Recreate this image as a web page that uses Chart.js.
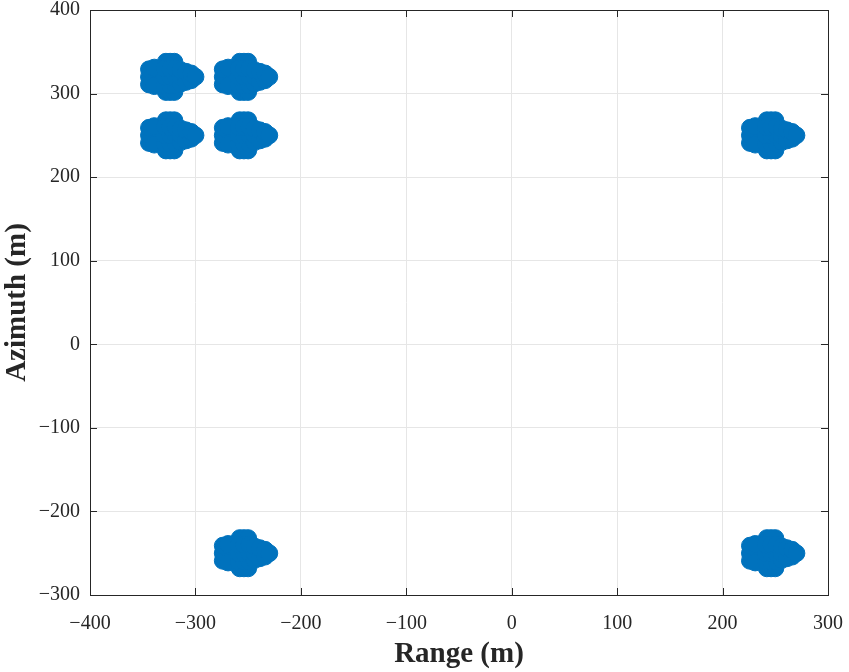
<!DOCTYPE html>
<html>
<head>
<meta charset="utf-8">
<script src="https://cdn.jsdelivr.net/npm/chart.js@4.4.0/dist/chart.umd.min.js"></script>
<style>
  html, body { margin: 0; padding: 0; background: #fff; }
  #wrap { width: 849px; height: 672px; }
</style>
</head>
<body>
<div id="wrap"><canvas id="sarChart"></canvas></div>
<script>
// target centres (m)
const rangeCenters   = [-324, -254, -324, -254, 246, -254, 246];
const azimuthCenters = [ 320,  320,  250,  250, 250, -250, -250];

// airplane outline as point offsets from the wing centre (m)
const shapeDx = [-20, -20, -20, -15, -15,
                 -4, 0, 4, -4, 0, 4,
                 -5, 0, 5, -5, 0, 5, -5, 0, 5,
                 10, 10, 10, 15, 15, 20, 20, 24];
const shapeDy = [-9, 0, 9, -11, 11,
                 -18, -18, -18, 18, 18, 18,
                 -10, -10, -10, 0, 0, 0, 10, 10, 10,
                 -8, 0, 8, -6, 6, -4, 4, 0];

const xTicks = [-400, -300, -200, -100, 0, 100, 200, 300];
const yTicks = [-300, -200, -100, 0, 100, 200, 300, 400];

const points = [];
rangeCenters.forEach((cx, i) => {
    shapeDx.forEach((dx, j) => {
        points.push({ x: cx + dx, y: azimuthCenters[i] + shapeDy[j] });
    });
});

// MATLAB-style box with inward ticks
const boxPlugin = {
    id: 'boxPlugin',
    afterDraw(chart) {
        const { ctx, chartArea: a, scales } = chart;
        ctx.save();
        ctx.strokeStyle = '#262626';
        ctx.lineWidth = 1;
        ctx.beginPath();
        xTicks.forEach(v => {
            const px = Math.round(scales.x.getPixelForValue(v)) + 0.5;
            ctx.moveTo(px, a.bottom); ctx.lineTo(px, a.bottom - 7);
            ctx.moveTo(px, a.top); ctx.lineTo(px, a.top + 7);
        });
        yTicks.forEach(v => {
            const py = Math.round(scales.y.getPixelForValue(v)) + 0.5;
            ctx.moveTo(a.left, py); ctx.lineTo(a.left + 7, py);
            ctx.moveTo(a.right, py); ctx.lineTo(a.right - 7, py);
        });
        ctx.stroke();
        ctx.strokeRect(Math.round(a.left) + 0.5, Math.round(a.top) + 0.5,
                       Math.round(a.right - a.left), Math.round(a.bottom - a.top));
        ctx.restore();
    }
};

const ctx = document.getElementById('sarChart').getContext('2d');
const sarChart = new Chart(ctx, {
    type: 'scatter',
    data: {
        datasets: [{
            data: points,
            backgroundColor: '#0072BD',
            borderColor: '#0072BD',
            borderWidth: 1,
            pointRadius: 8.5,
            pointHoverRadius: 8.5
        }]
    },
    options: {
        responsive: true,
        maintainAspectRatio: false,
        animation: false,
        events: [],
        layout: { padding: { top: 10, right: 21, left: 0, bottom: 0 } },
        plugins: { legend: { display: false }, tooltip: { enabled: false } },
        scales: {
            x: {
                type: 'linear',
                min: -400, max: 300,
                afterBuildTicks: s => { s.ticks = xTicks.map(v => ({ value: v })); },
                afterFit: s => { s.height = 77; s.paddingLeft = 0; s.paddingRight = 0; },
                border: { display: false },
                grid: { color: '#e6e6e6', drawTicks: false },
                ticks: {
                    color: '#262626',
                    padding: 17,
                    maxRotation: 0,
                    font: { family: 'Liberation Serif', size: 20 },
                    callback: v => String(v).replace('-', '\u2212')
                },
                title: {
                    display: true,
                    text: 'Range (m)',
                    color: '#262626',
                    padding: { top: 3, bottom: 0 },
                    font: { family: 'Liberation Serif', size: 29, weight: 'bold' }
                }
            },
            y: {
                type: 'linear',
                min: -300, max: 400,
                afterBuildTicks: s => { s.ticks = yTicks.map(v => ({ value: v })); },
                afterFit: s => { s.width = 90; s.paddingTop = 0; s.paddingBottom = 0; },
                border: { display: false },
                grid: { color: '#e6e6e6', drawTicks: false },
                ticks: {
                    color: '#262626',
                    padding: 10,
                    font: { family: 'Liberation Serif', size: 20 },
                    callback: v => String(v).replace('-', '\u2212')
                },
                title: {
                    display: true,
                    text: 'Azimuth (m)',
                    color: '#262626',
                    padding: { top: 0, bottom: 0 },
                    font: { family: 'Liberation Serif', size: 29, weight: 'bold' }
                }
            }
        }
    },
    plugins: [boxPlugin]
});
</script>
</body>
</html>
